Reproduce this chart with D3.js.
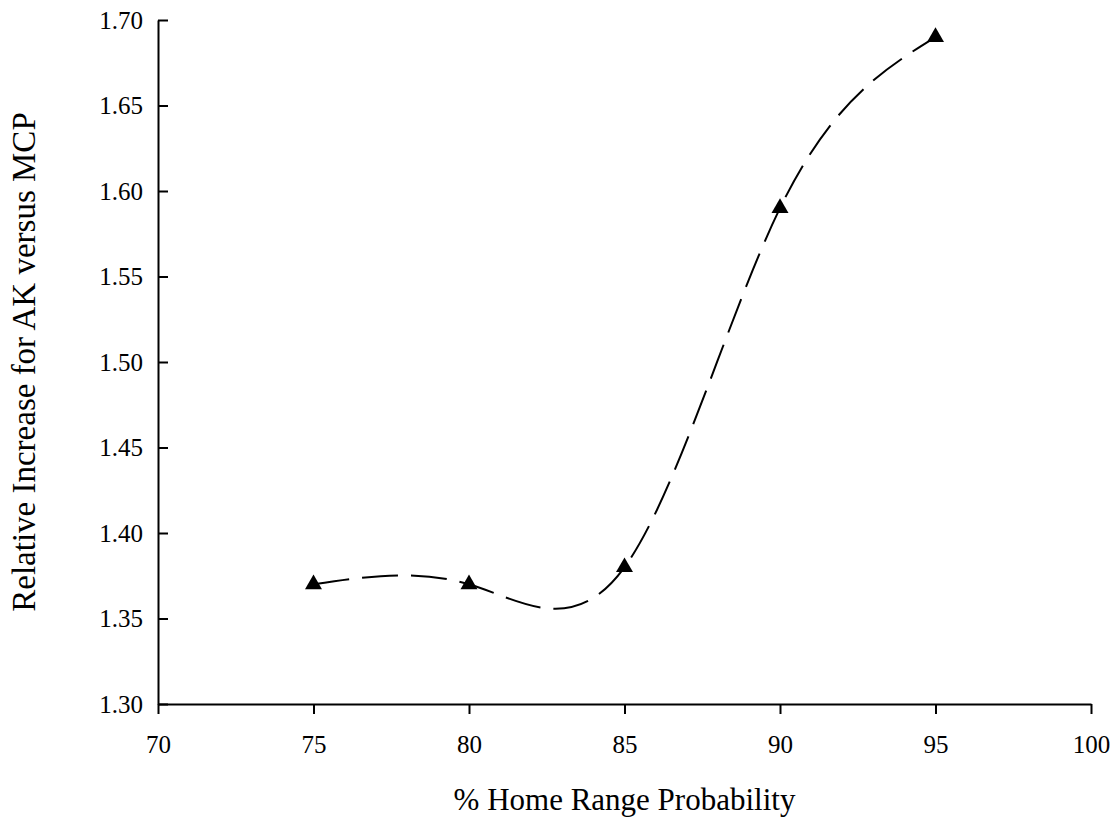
<!DOCTYPE html>
<html>
<head>
<meta charset="utf-8">
<script src="https://cdn.jsdelivr.net/npm/d3@7"></script>
<style>
  html, body { margin: 0; padding: 0; background: #fff; }
  svg { display: block; }
  text { font-family: "Liberation Serif", "Times New Roman", serif; fill: #000; }
</style>
</head>
<body>
<svg id="chart" width="1120" height="823"></svg>
<script>
// Data
const probability = [75, 80, 85, 90, 95];
const relativeIncrease = [1.37, 1.37, 1.38, 1.59, 1.69];
const xTicks = [70, 75, 80, 85, 90, 95, 100];
const yTicks = [1.30, 1.35, 1.40, 1.45, 1.50, 1.55, 1.60, 1.65, 1.70];
const xTitle = "% Home Range Probability";
const yTitle = "Relative Increase for AK versus MCP";

const W = 1120, H = 823;
const margin = { left: 158, right: 29, top: 20, bottom: 119 };
const svg = d3.select("#chart");
const serif = '"Liberation Serif", "Times New Roman", serif';

const x = d3.scaleLinear().domain([70, 100]).range([margin.left, W - margin.right]);
const y = d3.scaleLinear().domain([1.30, 1.70]).range([H - margin.bottom, margin.top]);

// X axis
const gx = svg.append("g")
  .attr("transform", `translate(0,${H - margin.bottom})`)
  .call(d3.axisBottom(x).tickValues(xTicks).tickFormat(d3.format("d"))
    .tickSize(10).tickSizeOuter(0).tickPadding(21));
gx.attr("font-family", null).attr("font-size", null);
gx.selectAll("text").style("font-size", "25px").style("font-family", serif);
gx.selectAll("path, line").attr("stroke", "#000").attr("stroke-width", 2);

// Y axis (ticks inward)
const gy = svg.append("g")
  .attr("transform", `translate(${margin.left},0)`)
  .call(d3.axisLeft(y).tickValues(yTicks).tickFormat(d3.format(".2f"))
    .tickSize(-10).tickSizeOuter(0).tickPadding(15));
gy.attr("font-family", null).attr("font-size", null);
gy.selectAll("text").style("font-size", "25px").style("font-family", serif);
gy.selectAll("path, line").attr("stroke", "#000").attr("stroke-width", 2);

// Smoothed dashed line
const pts = probability.map((p, i) => [p, relativeIncrease[i]]);
const line = d3.line().x(d => x(d[0])).y(d => y(d[1])).curve(d3.curveNatural);
svg.append("path")
  .datum(pts)
  .attr("d", line)
  .attr("fill", "none")
  .attr("stroke", "#000")
  .attr("stroke-width", 2)
  .attr("stroke-dasharray", "36,13");

// Triangle markers
svg.selectAll(".marker")
  .data(pts)
  .enter().append("path")
  .attr("class", "marker")
  .attr("d", d3.symbol().type(d3.symbolTriangle).size(125))
  .attr("transform", d => `translate(${x(d[0])},${y(d[1])})`)
  .attr("fill", "#000");

// Axis titles
svg.append("text")
  .attr("x", (x.range()[0] + x.range()[1]) / 2)
  .attr("y", 810)
  .attr("text-anchor", "middle")
  .style("font-size", "31px")
  .style("font-family", serif)
  .text(xTitle);

svg.append("text")
  .attr("transform", `translate(35,${(y.range()[0] + y.range()[1]) / 2}) rotate(-90)`)
  .attr("text-anchor", "middle")
  .style("font-size", "33px")
  .style("font-family", serif)
  .text(yTitle);
</script>
</body>
</html>
